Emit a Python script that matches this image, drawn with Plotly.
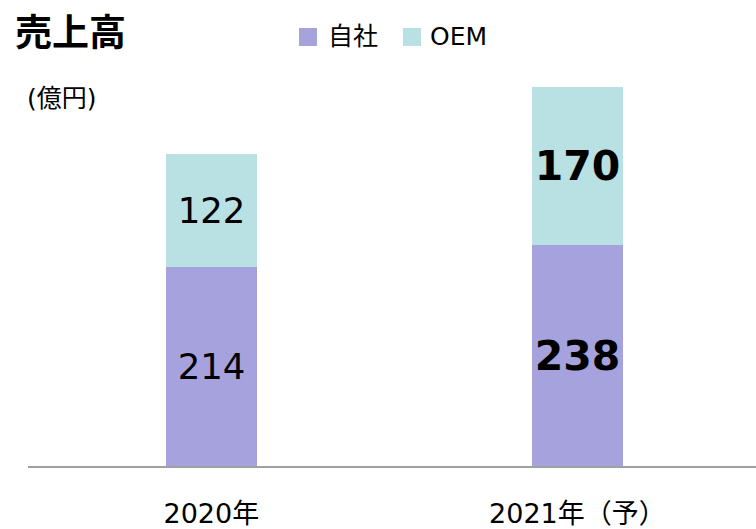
import plotly.graph_objects as go

# ---- data ----
categories = ["2020年", "2021年（予）"]
series_names = ["自社", "OEM"]
jisha = [214, 238]
oem = [122, 170]
label_templates = ["%{y}", "<b>%{y}</b>"]
label_sizes = [35.5, 41]
colors = ["#A5A2DE", "#B9E0E3"]
title_text = "売上高"
unit_text = "(億円)"

W, H = 756, 529
L, R, T, B = 28, 0, 60, 63
plot_w = W - L - R
plot_h = H - T - B
FONT = "DejaVu Sans, Noto Sans CJK JP, sans-serif"


def px_x(p):
    return (p - L) / plot_w


def px_y(p):
    return (H - B - p) / plot_h


fig = go.Figure()
for name, vals, col in zip(series_names, [jisha, oem], colors):
    fig.add_trace(go.Bar(
        x=categories, y=vals, name=name,
        marker=dict(color=col, line=dict(width=0)),
        width=0.249,
        texttemplate=label_templates,
        textposition="inside",
        insidetextanchor="middle",
        constraintext="none",
        textangle=0,
        textfont=dict(size=label_sizes, color="black", family=FONT),
        hoverinfo="skip",
        showlegend=False,
    ))

fig.update_layout(
    barmode="stack",
    width=W, height=H,
    margin=dict(l=L, r=R, t=T, b=B, pad=0),
    paper_bgcolor="white", plot_bgcolor="white",
    font=dict(family=FONT, color="black"),
    xaxis=dict(
        range=[-0.501, 1.488],
        automargin=False,
        showline=True, linecolor="#A0A0A0", linewidth=2,
        showgrid=False, zeroline=False,
        ticks="outside", ticklen=23, tickcolor="rgba(0,0,0,0)",
        tickfont=dict(size=27, color="black", family=FONT),
    ),
    yaxis=dict(
        range=[0, plot_h / 0.929],
        automargin=False,
        visible=False, showgrid=False, zeroline=False,
    ),
    bargap=0,
)

# title and unit
fig.add_annotation(text=f"<b>{title_text}</b>", xref="paper", yref="paper",
                   x=px_x(13), y=px_y(34), xanchor="left", yanchor="middle",
                   showarrow=False, font=dict(size=37, color="black", family=FONT))
fig.add_annotation(text=unit_text, xref="paper", yref="paper",
                   x=px_x(25), y=px_y(98), xanchor="left", yanchor="middle",
                   showarrow=False, font=dict(size=25, color="black", family=FONT))

# custom legend
legend_pos = [(299, 328), (403, 430)]
for (sx, tx), name, col in zip(legend_pos, series_names, colors):
    fig.add_shape(type="rect", xref="paper", yref="paper",
                  x0=px_x(sx), x1=px_x(sx + 18), y0=px_y(46), y1=px_y(28),
                  fillcolor=col, line=dict(width=0))
    fig.add_annotation(text=name, xref="paper", yref="paper",
                       x=px_x(tx - 2), y=px_y(36), xanchor="left", yanchor="middle",
                       showarrow=False, font=dict(size=25, color="black", family=FONT))

fig.write_html("out.html", config={"displayModeBar": False},
               post_script="document.body.style.margin='0';document.body.style.padding='0';")
